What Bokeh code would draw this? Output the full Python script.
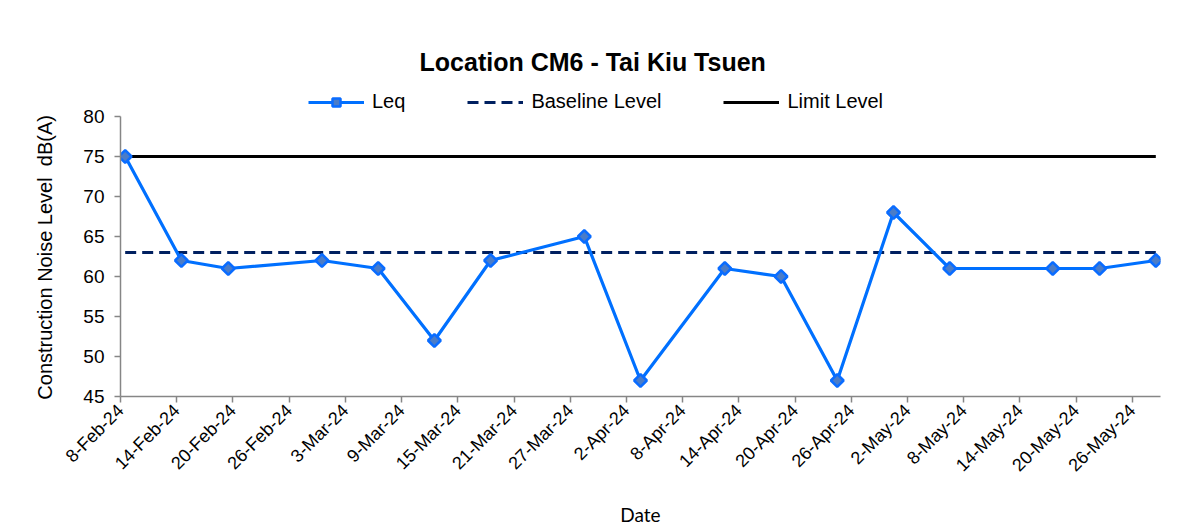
import numpy as np
import pandas as pd
from bokeh.plotting import figure
from bokeh.models import FixedTicker, Legend, LegendItem, Label, Range1d
from bokeh.embed import file_html
from bokeh.resources import INLINE

# ---- data ----
dates = ["2024-02-08", "2024-02-14", "2024-02-19", "2024-02-29", "2024-03-06",
         "2024-03-12", "2024-03-18", "2024-03-28", "2024-04-03", "2024-04-12",
         "2024-04-18", "2024-04-24", "2024-04-30", "2024-05-06", "2024-05-17",
         "2024-05-22", "2024-05-28"]
leq = [75, 62, 61, 62, 61, 52, 62, 65, 47, 61, 60, 47, 68, 61, 61, 61, 62]
baseline = [63] * len(dates)
limit = [75] * len(dates)
axis_start = "2024-02-08"
axis_end = "2024-05-29"
tick_dates = ["2024-02-08", "2024-02-14", "2024-02-20", "2024-02-26", "2024-03-03",
              "2024-03-09", "2024-03-15", "2024-03-21", "2024-03-27", "2024-04-02",
              "2024-04-08", "2024-04-14", "2024-04-20", "2024-04-26", "2024-05-02",
              "2024-05-08", "2024-05-14", "2024-05-20", "2024-05-26"]
tick_labels = ["8-Feb-24", "14-Feb-24", "20-Feb-24", "26-Feb-24", "3-Mar-24",
               "9-Mar-24", "15-Mar-24", "21-Mar-24", "27-Mar-24", "2-Apr-24",
               "8-Apr-24", "14-Apr-24", "20-Apr-24", "26-Apr-24", "2-May-24",
               "8-May-24", "14-May-24", "20-May-24", "26-May-24"]
y_ticks = [45, 50, 55, 60, 65, 70, 75, 80]
y_min, y_max = 45, 80

t0 = pd.Timestamp(axis_start)
def day(d):
    return float((pd.Timestamp(d) - t0).days)

x = [day(d) + 0.5 for d in dates]  # Excel date axis: points centred in day slot
ticks = [day(d) for d in tick_dates]

FONT = "Liberation Sans"
NBSP = "\u00a0"

# frame extends above the value axis to hold title and legend (axis bounded to 45-80)
p = figure(width=1191, height=529, output_backend="svg", toolbar_location=None,
           x_range=Range1d(0, day(axis_end)), y_range=Range1d(y_min, 89.5),
           min_border_left=120, min_border_right=31, min_border_top=40,
           min_border_bottom=133)
p.outline_line_color = None
p.grid.visible = False
p.background_fill_color = "white"

r_lim = p.line(x, limit, line_color="black", line_width=3)
r_base = p.line(x, baseline, line_color="#002060", line_width=3, line_dash="11 6")
r_leq = p.line(x, leq, line_color="#0070FF", line_width=3.2)
r_pts = p.scatter(x, leq, marker="square", angle=np.pi / 4, size=9,
                  fill_color="#4a7cc8", line_color="#0a6cff", line_width=2.5)

# title (inside the extended frame, above the legend)
p.add_layout(Label(x=50.4, y=86.875, text="Location CM6 - Tai Kiu Tsuen",
                   text_font=FONT, text_font_style="bold",
                   text_font_size="25px", text_align="center",
                   text_baseline="middle", text_color="black"))

# axes
xa = p.xaxis[0]
xa.ticker = FixedTicker(ticks=ticks)
xa.major_label_overrides = {t: l for t, l in zip(ticks, tick_labels)}
xa.major_label_orientation = np.pi / 4
xa.minor_tick_line_color = None
xa.axis_label = "Date"
xa.axis_label_text_font = "Lato"
xa.axis_label_text_font_style = "normal"
xa.axis_label_text_font_size = "19px"
xa.axis_label_standoff = 18

ya = p.yaxis[0]
ya.ticker = FixedTicker(ticks=y_ticks)
ya.bounds = (y_min, y_max)
ya.minor_tick_line_color = None
# trailing no-break spaces keep the label centred on the 45-80 span of the axis
ya.axis_label = "Construction Noise Level" + NBSP + " dB(A)" + NBSP * 14
ya.axis_label_text_font = FONT
ya.axis_label_text_font_style = "normal"
ya.axis_label_text_font_size = "20px"
ya.axis_label_standoff = 24

for ax in (xa, ya):
    ax.axis_line_color = "#868686"
    ax.axis_line_width = 1.5
    ax.major_tick_line_color = "#868686"
    ax.major_tick_line_width = 1.5
    ax.major_tick_out = 6
    ax.major_tick_in = 0
    ax.major_label_text_font = FONT
    ax.major_label_text_color = "black"
    ax.axis_label_text_color = "black"
xa.major_label_text_font_size = "18px"
ya.major_label_text_font_size = "19px"
xa.major_label_standoff = 5
ya.major_label_standoff = 10

legend = Legend(items=[LegendItem(label="Leq", renderers=[r_leq, r_pts]),
                       LegendItem(label="Baseline Level", renderers=[r_base]),
                       LegendItem(label="Limit Level", renderers=[r_lim])],
                orientation="horizontal", location=(188, 283),
                glyph_width=56, glyph_height=20, label_height=20,
                label_standoff=8, spacing=62, padding=0, margin=0,
                border_line_color=None, background_fill_alpha=0,
                label_text_font=FONT, label_text_font_size="20px",
                label_text_color="black")
p.add_layout(legend, "center")

open("out.html", "w").write(file_html(p, INLINE))
